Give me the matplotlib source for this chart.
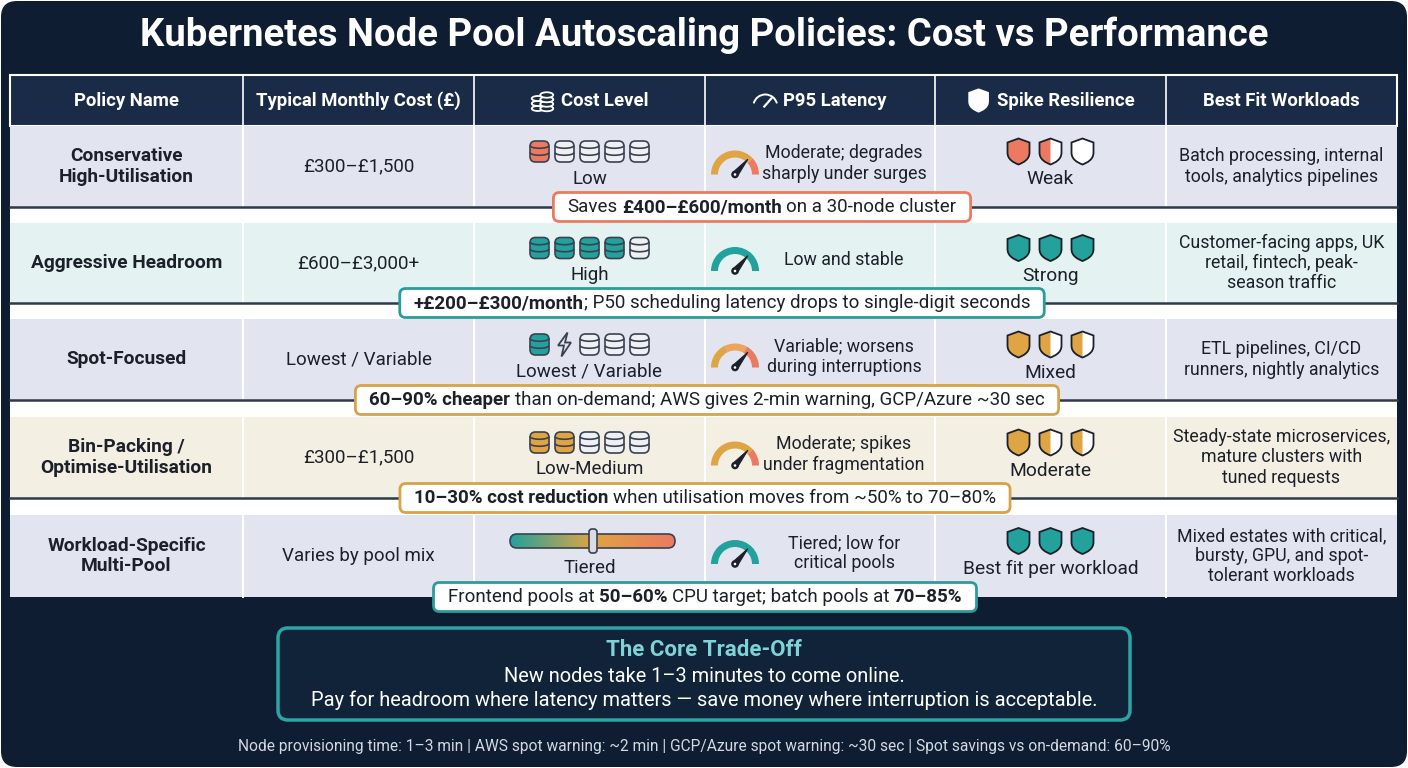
import matplotlib
matplotlib.use("Agg")
import matplotlib.pyplot as plt
import numpy as np
from matplotlib.patches import FancyBboxPatch, Rectangle, Wedge, Circle, Polygon, PathPatch, Arc, Ellipse
from matplotlib.path import Path
from matplotlib.colors import LinearSegmentedColormap

plt.rcParams["font.family"] = ["Roboto", "DejaVu Sans"]

# ---------------- data ----------------
title = "Kubernetes Node Pool Autoscaling Policies: Cost vs Performance"
headers = ["Policy Name", "Typical Monthly Cost (£)", "Cost Level", "P95 Latency",
           "Spike Resilience", "Best Fit Workloads"]

policies = ["Conservative\nHigh-Utilisation", "Aggressive Headroom", "Spot-Focused",
            "Bin-Packing /\nOptimise-Utilisation", "Workload-Specific\nMulti-Pool"]
monthly_costs = ["£300–£1,500", "£600–£3,000+", "Lowest / Variable", "£300–£1,500",
                 "Varies by pool mix"]
cost_levels = ["Low", "High", "Lowest / Variable", "Low-Medium", "Tiered"]
coins_filled = [1, 4, 1, 2, 0]
latency = ["Moderate; degrades\nsharply under surges", "Low and stable",
           "Variable; worsens\nduring interruptions", "Moderate; spikes\nunder fragmentation",
           "Tiered; low for\ncritical pools"]
resilience = ["Weak", "Strong", "Mixed", "Moderate", "Best fit per workload"]
shield_levels = [[1, 0.5, 0], [1, 1, 1], [1, 0.5, 0.5], [1, 0.5, 0.5], [1, 1, 1]]
workloads = ["Batch processing, internal\ntools, analytics pipelines",
             "Customer-facing apps, UK\nretail, fintech, peak-\nseason traffic",
             "ETL pipelines, CI/CD\nrunners, nightly analytics",
             "Steady-state microservices,\nmature clusters with\ntuned requests",
             "Mixed estates with critical,\nbursty, GPU, and spot-\ntolerant workloads"]
callouts = [
    [("Saves ", False), ("£400–£600/month", True), (" on a 30-node cluster", False)],
    [("+£200–£300/month", True), ("; P50 scheduling latency drops to single-digit seconds", False)],
    [("60–90% cheaper", True), (" than on-demand; AWS gives 2-min warning, GCP/Azure ~30 sec", False)],
    [("10–30% cost reduction", True), (" when utilisation moves from ~50% to 70–80%", False)],
    [("Frontend pools at ", False), ("50–60%", True), (" CPU target; batch pools at ", False), ("70–85%", True)],
]
core_title = "The Core Trade-Off"
core_lines = ["New nodes take 1–3 minutes to come online.",
              "Pay for headroom where latency matters — save money where interruption is acceptable."]
footer = ("Node provisioning time: 1–3 min | AWS spot warning: ~2 min | "
          "GCP/Azure spot warning: ~30 sec | Spot savings vs on-demand: 60–90%")

# ---------------- style ----------------
bg = "#0f1d33"
header_bg = "#1a2b47"
ink = "#1c2029"
edge = "#3a4250"
teal = "#23a19d"
coral = "#ec7a61"
gold = "#dfa443"
row_bg = ["#e2e5ef", "#e4f2f2", "#e2e5ef", "#f3efe3", "#e2e5ef"]
row_accent = [coral, teal, teal, gold, None]
shield_color = [coral, teal, gold, gold, teal]
callout_edge = [coral, "#2a9d9b", "#d6a24a", "#d6a24a", "#2a9d9b"]
callout_cx = [762, 722, 707, 705, 705]
gauge_segments = [
    [(gold, 180, 318), (coral, 318, 360)],
    [(teal, 180, 360)],
    [(gold, 180, 245), ("#eda45c", 245, 300), (coral, 300, 360)],
    [(gold, 180, 318), (coral, 318, 360)],
    [(teal, 180, 360)],
]

W, H = 1408, 768
fig = plt.figure(figsize=(14.08, 7.68), dpi=100)
fig.patch.set_facecolor("white")
ax = fig.add_axes([0, 0, 1, 1])
ax.set_xlim(0, W)
ax.set_ylim(H, 0)
ax.axis("off")
renderer = fig.canvas.get_renderer()

ax.add_patch(FancyBboxPatch((1, 1), W - 2, H - 2, boxstyle="round,pad=0,rounding_size=16",
                            fc=bg, ec="none"))

ax.text(W / 2, 35, title, color="white", fontsize=27.5, fontweight="bold", ha="center", va="center")

col_x = [10, 243, 474, 705, 935, 1166, 1397]
col_c = [(a + b) / 2 for a, b in zip(col_x[:-1], col_x[1:])]
row_top = [126, 223, 319, 417, 515]
row_bot = [207, 303, 400, 498, 597]
head_top, head_bot = 75, 126

# header
ax.add_patch(Rectangle((col_x[0], head_top), col_x[-1] - col_x[0], head_bot - head_top,
                       fc=header_bg, ec="white", lw=1.5))
for x in col_x[1:-1]:
    ax.plot([x, x], [head_top, head_bot], color="white", lw=1.2)


def text_width(s, **kw):
    t = ax.text(0, 0, s, **kw)
    w = t.get_window_extent(renderer).width
    t.remove()
    return w


def coin_icon(cx, cy, fill, ec=edge, lw=1.2):
    w, h = 19, 21
    ax.add_patch(FancyBboxPatch((cx - w / 2, cy - h / 2), w, h,
                                boxstyle="round,pad=0,rounding_size=5.5", fc=fill, ec=ec, lw=lw))
    for dy in (-4, 3):
        ax.add_patch(Arc((cx, cy + dy - 2), w, 5.5, theta1=0, theta2=180, color=ec, lw=lw))


def bolt_icon(cx, cy):
    pts = [(cx + 3, cy - 12), (cx - 6.5, cy + 1), (cx - 0.5, cy + 1), (cx - 3, cy + 12),
           (cx + 6.5, cy - 2), (cx + 0.5, cy - 2)]
    ax.add_patch(Polygon(pts, closed=True, fc="none", ec=edge, lw=1.3, joinstyle="miter"))


def shield_path(cx, cy, s=1.0, half=False):
    hw, top, mid, bot = 11 * s, -13 * s, 1 * s, 13 * s
    if half:
        verts = [(cx, cy + top), (cx - hw, cy + top + 4 * s), (cx - hw, cy + mid),
                 (cx - hw, cy + mid + 7 * s), (cx - 5 * s, cy + bot - 2 * s), (cx, cy + bot),
                 (cx, cy + top)]
        codes = [Path.MOVETO, Path.LINETO, Path.LINETO, Path.CURVE4, Path.CURVE4, Path.CURVE4,
                 Path.CLOSEPOLY]
    else:
        verts = [(cx, cy + top), (cx - hw, cy + top + 4 * s), (cx - hw, cy + mid),
                 (cx - hw, cy + mid + 7 * s), (cx - 5 * s, cy + bot - 2 * s), (cx, cy + bot),
                 (cx + 5 * s, cy + bot - 2 * s), (cx + hw, cy + mid + 7 * s), (cx + hw, cy + mid),
                 (cx + hw, cy + top + 4 * s), (cx, cy + top)]
        codes = [Path.MOVETO, Path.LINETO, Path.LINETO, Path.CURVE4, Path.CURVE4, Path.CURVE4,
                 Path.CURVE4, Path.CURVE4, Path.CURVE4, Path.LINETO, Path.CLOSEPOLY]
    return Path(verts, codes)


def shield_icon(cx, cy, level, color, ec=ink, lw=1.3, s=1.0):
    ax.add_patch(PathPatch(shield_path(cx, cy, s), fc="white" if level < 1 else color, ec="none"))
    if 0 < level < 1:
        ax.add_patch(PathPatch(shield_path(cx, cy, s, half=True), fc=color, ec="none"))
    ax.add_patch(PathPatch(shield_path(cx, cy, s), fc="none", ec=ec, lw=lw))


def gauge_icon(cx, cy, segments, r=24, width=7):
    for c, t1, t2 in segments:
        ax.add_patch(Wedge((cx, cy), r, t1, t2, width=width, fc=c, ec="none"))
    ang = np.deg2rad(310)
    tip = (cx + 20 * np.cos(ang), cy + 20 * np.sin(ang))
    perp = ang + np.pi / 2
    b1 = (cx + 3 * np.cos(perp), cy + 3 * np.sin(perp))
    b2 = (cx - 3 * np.cos(perp), cy - 3 * np.sin(perp))
    ax.add_patch(Polygon([b1, tip, b2], closed=True, fc=ink, ec=ink, lw=0.8))
    ax.add_patch(Circle((cx, cy), 3.8, fc=ink, ec="none"))
    ax.add_patch(Circle((cx, cy), 1.3, fc="white", ec="none"))


# header texts with icons
hfont = dict(fontsize=13.3, fontweight="bold", color="white", va="center")
hy = (head_top + head_bot) / 2
for i, h in enumerate(headers):
    if i in (2, 3, 4):
        tw = text_width(h, **hfont)
        icon_w = 24
        x0 = col_c[i] - (tw + icon_w + 6) / 2
        ix = x0 + icon_w / 2
        if i == 2:
            for dy in (8, 3, -2):
                ax.add_patch(Ellipse((ix - 5, hy + dy), 12, 5, fc=header_bg, ec="white", lw=1.3))
            for dy in (8, 3.5, -1, -5.5):
                ax.add_patch(Ellipse((ix + 4, hy + dy), 13, 5.5, fc=header_bg, ec="white", lw=1.3))
        elif i == 3:
            ax.add_patch(Arc((ix, hy + 6), 24, 24, theta1=195, theta2=345, color="white", lw=1.4))
            ax.plot([ix - 1, ix + 6], [hy + 6, hy - 2], color="white", lw=1.6)
        else:
            shield_icon(ix, hy, 0, header_bg, ec="white", lw=1.4, s=0.85)
            ax.add_patch(PathPatch(shield_path(ix, hy, 0.55), fc="white", ec="none"))
        ax.text(x0 + icon_w + 6, hy, h, ha="left", **hfont)
    else:
        ax.text(col_c[i], hy, h, ha="center", **hfont)

# table body
ax.add_patch(Rectangle((col_x[0], head_bot), col_x[-1] - col_x[0], row_bot[-1] - head_bot,
                       fc="white", ec="none"))
body = dict(color=ink, va="center", ha="center", linespacing=1.15)
for r in range(5):
    top, bot = row_top[r], row_bot[r]
    mid = (top + bot) / 2
    ax.add_patch(Rectangle((col_x[0], top), col_x[-1] - col_x[0], bot - top, fc=row_bg[r], ec="none"))
    for x in col_x[1:-1]:
        ax.plot([x, x], [top, bot], color="white", lw=1.5)
    if r < 4:
        ax.plot([col_x[0], col_x[-1]], [bot, bot], color="#2e3a48", lw=1.8)

    ax.text(col_c[0], mid, policies[r], fontweight="bold", fontsize=13.8, **body)
    ax.text(col_c[1], mid, monthly_costs[r], fontsize=13.5, **body)

    # cost level icons
    if r == 4:
        x0, x1, yb = 510, 675, mid - 15
        bar = FancyBboxPatch((x0, yb - 7), x1 - x0, 14, boxstyle="round,pad=0,rounding_size=7",
                             fc="none", ec=edge, lw=1.2, zorder=3)
        ax.add_patch(bar)
        cmap = LinearSegmentedColormap.from_list("tier", [teal, gold, coral])
        im = ax.imshow(np.linspace(0, 1, 256).reshape(1, -1), cmap=cmap, aspect="auto",
                       extent=(x0, x1, yb + 7, yb - 7), zorder=2)
        im.set_clip_path(bar)
        ax.add_patch(FancyBboxPatch((589, yb - 12), 8, 24, boxstyle="round,pad=0,rounding_size=3",
                                    fc="#d9dde3", ec=edge, lw=1.2, zorder=4))
        ax.set_xlim(0, W)
        ax.set_ylim(H, 0)
    else:
        for k in range(5):
            cx = col_c[2] - 50 + 25 * k
            if r == 2 and k == 1:
                bolt_icon(cx, mid - 15)
            else:
                coin_icon(cx, mid - 15, row_accent[r] if k < coins_filled[r] else "#eef0f4")
    ax.text(col_c[2], mid + 12, cost_levels[r], fontsize=13.5, **body)

    # latency
    gauge_icon(735, mid + 8, gauge_segments[r])
    ax.text(844, mid - 3, latency[r], fontsize=12.8, **body)

    # resilience
    for k in range(3):
        shield_icon(col_c[4] - 32 + 32 * k, mid - 15, shield_levels[r][k], shield_color[r])
    ax.text(col_c[4], mid + 13, resilience[r], fontsize=13.8, **body)

    ax.text(col_c[5], mid, workloads[r], fontsize=12.8, **body)

# callouts with mixed bold text
cfont = 13.5
space_w = text_width("x x", fontsize=cfont) - text_width("xx", fontsize=cfont)
for r in range(5):
    cy = row_bot[r]
    pieces = []
    total = 0
    for s, b in callouts[r]:
        lead = len(s) - len(s.lstrip(" "))
        trail = len(s) - len(s.rstrip(" "))
        core = s.strip(" ")
        w = text_width(core, fontsize=cfont, fontweight="bold" if b else "normal")
        total += lead * space_w
        pieces.append((core, b, total))
        total += w + trail * space_w
    bw = total + 28
    ax.add_patch(FancyBboxPatch((callout_cx[r] - bw / 2, cy - 14.5), bw, 29,
                                boxstyle="round,pad=0,rounding_size=6", fc="white",
                                ec=callout_edge[r], lw=2, zorder=5))
    x0 = callout_cx[r] - total / 2
    for core, b, off in pieces:
        ax.text(x0 + off, cy, core, fontsize=cfont, fontweight="bold" if b else "normal",
                color=ink, ha="left", va="center", zorder=6)

# core trade-off box
ax.add_patch(FancyBboxPatch((278, 628), 852, 92, boxstyle="round,pad=0,rounding_size=10",
                            fc="#102339", ec="#2aa6a6", lw=2.5))
ax.text(704, 650, core_title, color="#7fd3d6", fontsize=16, fontweight="bold",
        ha="center", va="center")
ax.text(704, 676, core_lines[0], color="white", fontsize=14.4, ha="center", va="center")
ax.text(704, 700, core_lines[1], color="white", fontsize=14.4, ha="center", va="center")

ax.text(704, 746, footer, color="#d3d9e2", fontsize=11.2, ha="center", va="center")

fig.savefig("out.png", dpi=100, facecolor=fig.get_facecolor())
